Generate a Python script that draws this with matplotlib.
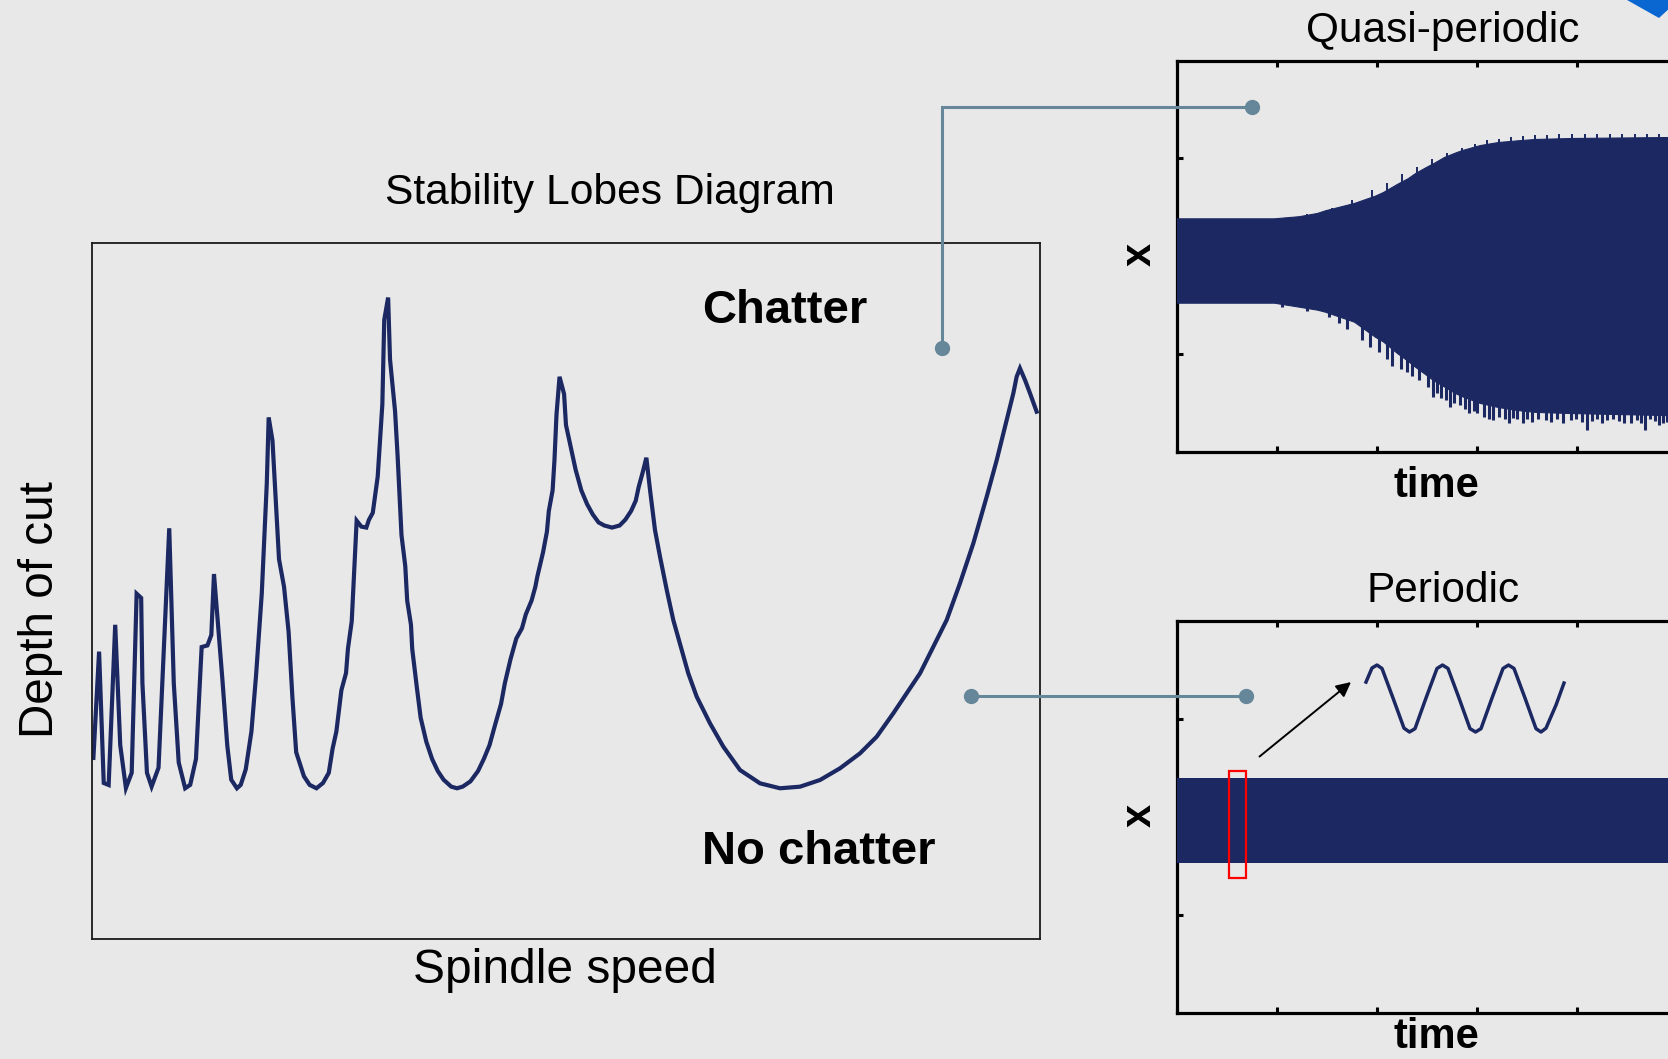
import matplotlib
matplotlib.use('Agg')
import matplotlib.pyplot as plt
from matplotlib.patches import Rectangle, Polygon
import numpy as np

plt.rcParams['font.family'] = ['Liberation Sans', 'DejaVu Sans']

BG = '#e8e8e8'
NAVY = '#1b2862'
LINK = '#66879a'

# ---------------- Stability lobes diagram (arbitrary units 0-100) ----------------
speed = [0.2, 0.80, 1.29, 1.81, 2.50, 3.03, 3.63, 4.24, 4.76, 5.24, 5.37, 5.85, 6.34, 7.07,
         8.20, 8.68, 9.20, 9.88, 10.41, 11.02, 11.62, 12.23, 12.64, 12.92, 13.40, 13.81,
         14.32, 14.74, 15.34, 15.74, 16.27, 16.87, 17.35, 17.96, 18.49, 18.69, 19.09, 19.38,
         19.78, 20.31, 20.79, 21.19, 21.59, 22.41, 23.01, 23.73, 24.42, 25.03, 25.43, 25.83,
         26.36, 26.85, 27.05, 27.45, 27.77, 27.97, 28.46, 28.99, 29.27, 29.67, 30.19, 30.68,
         30.88, 31.29, 31.49, 32.02, 32.29, 32.50, 32.70, 33.10, 33.30, 33.70, 33.83, 34.31,
         34.72, 35.32, 35.93, 36.53, 37.14, 37.94, 38.55, 39.16, 39.97, 40.77, 41.38, 41.98,
         42.58, 43.20, 43.60, 44.20, 44.81, 45.41, 45.81, 46.42, 46.82, 47.03, 47.63, 48.04,
         48.24, 48.64, 48.84, 49.05, 49.37, 49.85, 50.05, 50.67, 51.07, 51.67, 52.28, 52.88,
         53.49, 54.09, 54.91, 55.71, 56.31, 56.92, 57.41, 57.72, 58.12, 58.53, 58.92, 59.44,
         59.97, 60.68, 61.37, 62.26, 62.95, 63.84, 65.24, 66.65, 68.41, 70.52, 72.63, 74.74,
         76.85, 78.96, 81.07, 82.83, 84.58, 85.99, 87.40, 88.80, 90.21, 91.61, 93.02, 94.43,
         95.49, 96.54, 97.24, 97.59, 97.94, 98.47, 99.00, 99.70]
depth = [26.0, 41.26, 22.40, 22.11, 45.11, 27.85, 21.68, 23.86, 49.58, 48.97, 36.76, 23.86,
         21.88, 24.59, 58.97, 36.71, 25.34, 21.64, 22.13, 25.84, 41.92, 42.15, 43.65, 52.40,
         44.13, 37.22, 27.81, 22.87, 21.64, 22.13, 24.35, 29.79, 37.70, 49.58, 65.40, 74.89,
         71.57, 64.41, 54.52, 50.57, 44.13, 34.75, 26.82, 23.36, 22.13, 21.64, 22.40, 23.86,
         27.32, 29.79, 35.72, 38.19, 41.67, 45.61, 54.52, 60.06, 59.21, 59.07, 60.20, 61.19,
         66.39, 76.77, 88.89, 92.10, 83.20, 75.78, 69.35, 63.42, 57.98, 53.52, 48.59, 45.11,
         41.67, 36.22, 31.77, 28.31, 25.84, 24.11, 22.87, 21.88, 21.64, 21.88, 22.63, 24.11,
         25.84, 27.81, 30.78, 33.75, 36.71, 40.17, 43.14, 44.62, 46.60, 48.59, 50.57, 52.05,
         55.51, 58.48, 61.45, 64.41, 68.86, 75.29, 80.72, 78.25, 73.80, 69.85, 67.37, 64.41,
         62.43, 60.95, 59.81, 59.37, 59.07, 59.37, 60.20, 61.45, 62.93, 64.90, 66.88, 69.10,
         64.43, 58.72, 54.89, 50.11, 45.80, 41.49, 38.15, 34.79, 30.97, 27.61, 24.26, 22.35,
         21.64, 21.87, 22.83, 24.51, 26.66, 29.05, 32.41, 35.28, 38.15, 41.97, 45.80, 51.07,
         56.81, 63.50, 68.77, 74.51, 78.35, 80.73, 81.94, 80.26, 78.35, 75.71]

# ---------------- Quasi-periodic response envelope ----------------
qp_time = [0.0, 0.97, 1.22, 1.40, 1.48, 1.77, 1.98, 2.06, 2.20, 2.31, 2.38, 2.49, 2.56, 2.67,
           2.78, 2.85, 3.03, 3.21, 3.40, 3.58, 3.94, 4.91, 6.0]
qp_upper = [0.388, 0.388, 0.41, 0.443, 0.47, 0.545, 0.62, 0.657, 0.74, 0.80, 0.85, 0.913, 0.95,
            1.015, 1.06, 1.086, 1.137, 1.168, 1.185, 1.199, 1.209, 1.219, 1.219]
qp_lower = [-0.474, -0.474, -0.515, -0.545, -0.566, -0.668, -0.822, -0.87, -0.988, -1.07,
            -1.128, -1.21, -1.264, -1.33, -1.397, -1.43, -1.499, -1.54, -1.571, -1.59, -1.602,
            -1.623, -1.623]
# downward spikes of the quasi-periodic signal (bottom edge)
spike_time = [1.05, 1.30, 1.52, 1.62, 1.70, 1.85, 1.93, 2.02, 2.10, 2.15, 2.24, 2.30, 2.345,
              2.42, 2.508, 2.562, 2.60, 2.64, 2.69, 2.725, 2.77, 2.83, 2.88, 2.924, 2.97, 3.00,
              3.07, 3.12, 3.16, 3.22, 3.28, 3.323, 3.36, 3.40, 3.46, 3.50, 3.55, 3.61, 3.685,
              3.74, 3.80, 3.86, 3.939, 3.99, 4.05, 4.102, 4.15, 4.20, 4.25, 4.301, 4.36, 4.42,
              4.47, 4.536, 4.60, 4.64, 4.681, 4.73, 4.78, 4.82, 4.862, 4.90]
spike_depth = [-0.52, -0.56, -0.62, -0.68, -0.74, -0.86, -0.93, -0.98, -1.05, -1.12, -1.15,
               -1.18, -1.22, -1.26, -1.332, -1.434, -1.40, -1.45, -1.47, -1.536, -1.50, -1.52,
               -1.56, -1.605, -1.58, -1.60, -1.64, -1.66, -1.673, -1.64, -1.66, -1.707, -1.65,
               -1.66, -1.70, -1.66, -1.69, -1.66, -1.673, -1.69, -1.66, -1.70, -1.673, -1.66,
               -1.69, -1.775, -1.68, -1.66, -1.70, -1.673, -1.66, -1.68, -1.70, -1.707, -1.67,
               -1.70, -1.775, -1.66, -1.68, -1.72, -1.707, -1.69]
# small upward spikes (top edge)
tspike_time = [1.30, 1.55, 1.75, 1.95, 2.10, 2.25, 2.40, 2.55, 2.70, 2.85, 2.98, 3.10, 3.22,
               3.34, 3.46, 3.58, 3.70, 3.82, 3.95, 4.08, 4.20, 4.33, 4.45, 4.58, 4.70, 4.82]
tspike_height = [0.43, 0.49, 0.58, 0.68, 0.75, 0.84, 0.91, 0.99, 1.06, 1.11, 1.15, 1.185, 1.20,
                 1.215, 1.225, 1.235, 1.24, 1.245, 1.245, 1.25, 1.245, 1.25, 1.245, 1.25, 1.245,
                 1.25]

# ---------------- Periodic response ----------------
p_upper = 0.396
p_lower = -0.472
p_time = [0.0, 6.0]
zoom_x = [1.89, 1.95, 2.00, 2.05, 2.16, 2.27, 2.325, 2.38, 2.49, 2.60, 2.655, 2.71, 2.82, 2.93,
          2.985, 3.04, 3.15, 3.26, 3.315, 3.37, 3.48, 3.59, 3.64, 3.69, 3.79, 3.87]
zoom_y = [1.376, 1.520, 1.550, 1.515, 1.213, 0.905, 0.866, 0.900, 1.213, 1.515, 1.550, 1.515,
          1.213, 0.900, 0.866, 0.900, 1.213, 1.515, 1.550, 1.515, 1.213, 0.900, 0.866, 0.905,
          1.141, 1.366]

time_ticks = [0, 1, 2, 3, 4, 5, 6]
x_ticks = [-1, 0, 1]

W, H = 1668, 1059
fig = plt.figure(figsize=(W / 100, H / 100), dpi=100, facecolor=BG)


def fax(left, top, right, bottom):
    return [left / W, 1 - bottom / H, (right - left) / W, (bottom - top) / H]


# ---- SLD axes ----
ax = fig.add_axes(fax(91.5, 242.5, 1039.5, 939))
ax.set_facecolor(BG)
ax.plot(speed, depth, color=NAVY, lw=3.0, solid_joinstyle='miter')
ax.set_xlim(0, 100)
ax.set_ylim(0, 100)
ax.set_xticks([])
ax.set_yticks([])
for s in ax.spines.values():
    s.set_linewidth(1.3)
    s.set_color('#1a1a1a')


def style_signal_axes(a):
    a.set_facecolor(BG)
    a.set_xlim(0, 6)
    a.set_ylim(-2, 2)
    a.set_xticks(time_ticks)
    a.set_yticks(x_ticks)
    a.tick_params(direction='in', length=4, width=2.2, top=True, right=False,
                  labelbottom=False, labelleft=False)
    for s in a.spines.values():
        s.set_linewidth(2.3)
        s.set_color('black')


# ---- Quasi-periodic axes ----
aq = fig.add_axes(fax(1177, 60.6, 1777, 452))
style_signal_axes(aq)
aq.fill_between(qp_time, qp_lower, qp_upper, color=NAVY, lw=0.8, zorder=3)
base_low = np.interp(spike_time, qp_time, qp_lower)
aq.vlines(spike_time, spike_depth, base_low + 0.05, color=NAVY, lw=2.2, zorder=3)
base_up = np.interp(tspike_time, qp_time, qp_upper)
aq.vlines(tspike_time, base_up - 0.05, tspike_height, color=NAVY, lw=1.4, zorder=3)

# ---- Periodic axes ----
ap = fig.add_axes(fax(1177, 621, 1777, 1012.5))
style_signal_axes(ap)
ap.fill_between(p_time, [p_lower] * 2, [p_upper] * 2, color=NAVY, lw=0, zorder=3)
ap.plot(zoom_x, zoom_y, color=NAVY, lw=2.5, zorder=4)
ap.add_patch(Rectangle((0.52, -0.626), 0.17, 1.093, fill=False, edgecolor='#ff0000',
                       lw=1.6, zorder=5))
ap.annotate('', xy=(1.74, 1.376), xytext=(0.825, 0.615),
            arrowprops=dict(arrowstyle='-|>', color='black', lw=1.4, mutation_scale=22,
                            shrinkA=0, shrinkB=0), zorder=5)

# ---- overlay (pixel coordinates) for texts and connectors ----
ov = fig.add_axes([0, 0, 1, 1], facecolor='none')
ov.set_xlim(0, W)
ov.set_ylim(H, 0)
ov.axis('off')
ov.set_zorder(10)

ov.plot([942.5, 942.5, 1252], [348, 106.5, 106.5], color=LINK, lw=2.2,
        solid_joinstyle='miter')
ov.plot([942.5, 1252], [348, 106.5], 'o', color=LINK, ms=10, ls='none')
ov.plot([971, 1246], [696, 696], color=LINK, lw=2.2)
ov.plot([971, 1246], [696, 696], 'o', color=LINK, ms=10, ls='none')

ov.add_patch(Polygon([(1627, 0), (1672, 0), (1672, 6), (1659, 18)], closed=True,
                     facecolor='#0a66d0', edgecolor='none'))

ov.text(610, 204, 'Stability Lobes Diagram', fontsize=30.7, ha='center', va='baseline')
ov.text(565, 983, 'Spindle speed', fontsize=34.5, ha='center', va='baseline')
ov.text(53, 610, 'Depth of cut', fontsize=34.3, ha='center', va='baseline', rotation=90,
        rotation_mode='anchor')
ov.text(702, 323, 'Chatter', fontsize=34, fontweight='bold', ha='left', va='baseline')
ov.text(702, 864, 'No chatter', fontsize=34, fontweight='bold', ha='left', va='baseline')
ov.text(1443, 42, 'Quasi-periodic', fontsize=30.5, ha='center', va='baseline')
ov.text(1443.5, 601.5, 'Periodic', fontsize=30.5, ha='center', va='baseline')
ov.text(1436.5, 497, 'time', fontsize=30, fontweight='bold', ha='center', va='baseline')
ov.text(1436.5, 1057, 'time', fontsize=30, fontweight='bold', ha='center', va='bottom')
ov.text(1151, 254, 'x', fontsize=30, fontweight='bold', ha='center', va='baseline',
        rotation=90, rotation_mode='anchor')
ov.text(1151, 815, 'x', fontsize=30, fontweight='bold', ha='center', va='baseline',
        rotation=90, rotation_mode='anchor')

fig.savefig('out.png', dpi=100, facecolor=BG)
